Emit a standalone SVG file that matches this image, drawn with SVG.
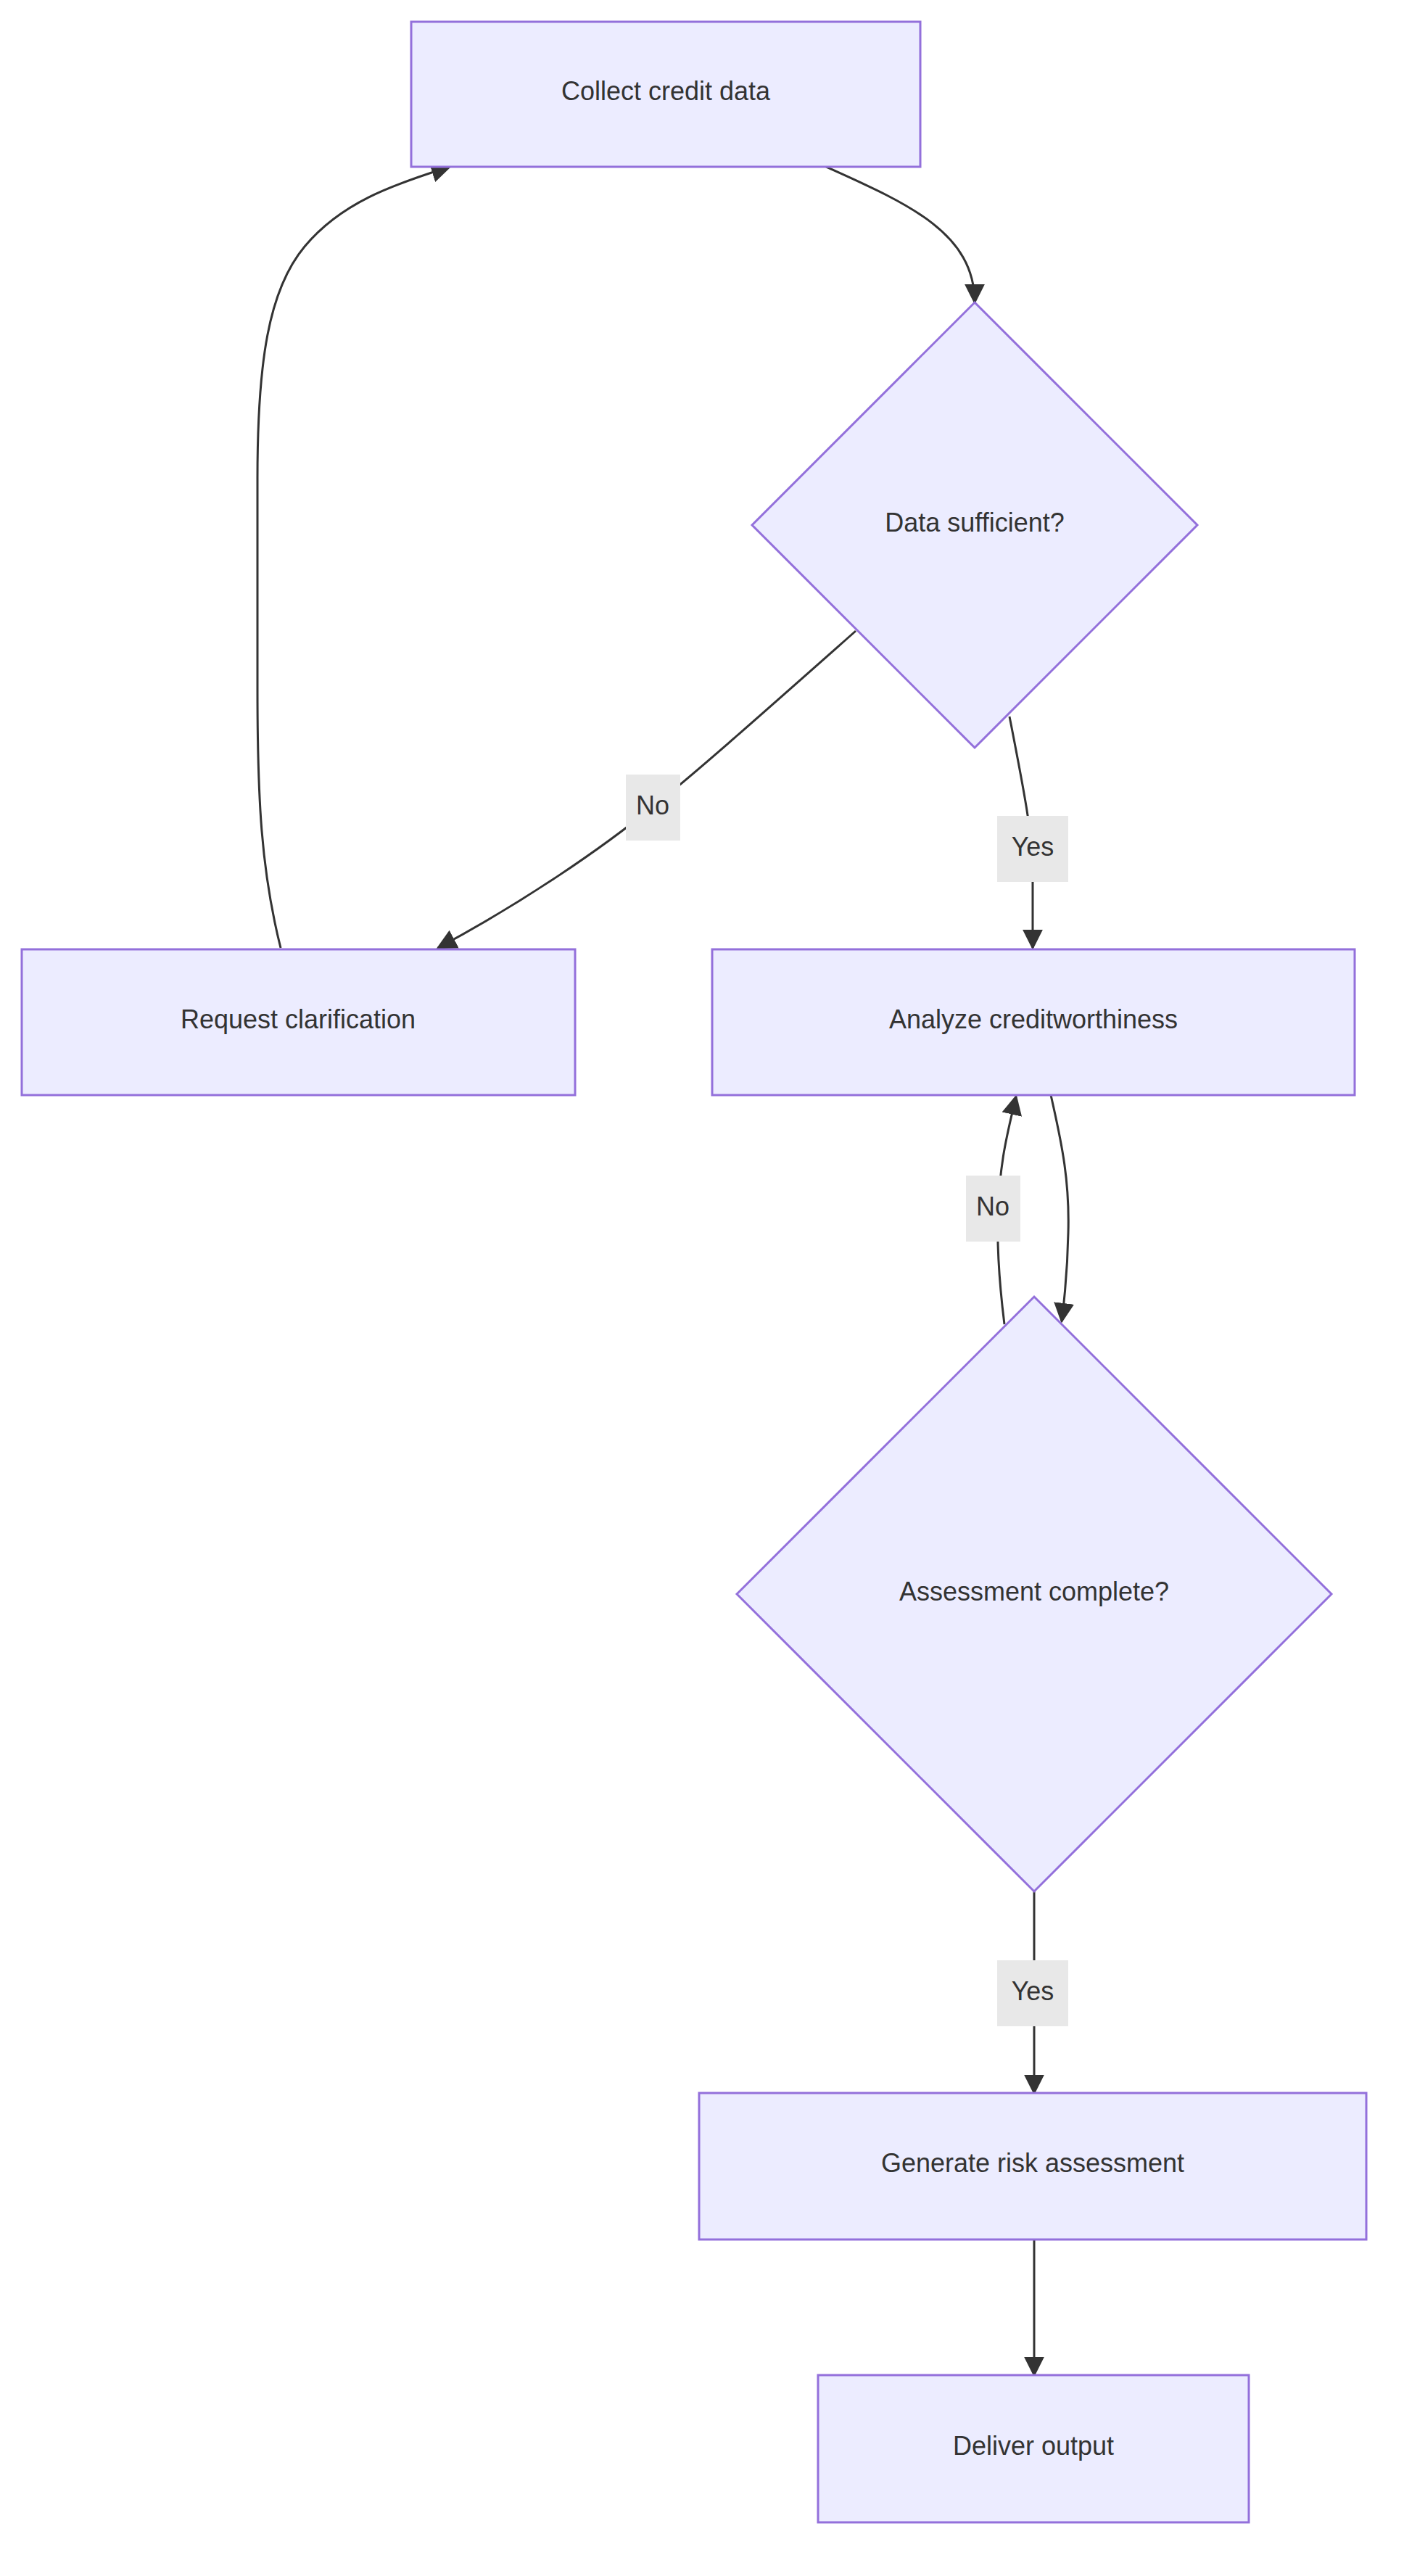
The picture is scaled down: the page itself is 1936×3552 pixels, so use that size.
<svg xmlns="http://www.w3.org/2000/svg" width="1936" height="3552" viewBox="0 0 1936 3552">
<style>
.n{fill:#ECECFF;stroke:#9370DB;stroke-width:3}
.t{font-family:"Liberation Sans",Arial,sans-serif;font-size:36px;fill:#333;text-anchor:middle;dominant-baseline:central}
.e{fill:none;stroke:#333;stroke-width:3;marker-end:url(#a)}
.lb{fill:#e8e8e8}
</style>
<defs><marker id="a" viewBox="0 0 10 10" refX="9" refY="5" markerWidth="9" markerHeight="9" markerUnits="userSpaceOnUse" orient="auto"><path d="M0,0L10,5L0,10z" fill="#333"/></marker>
<marker id="b" viewBox="0 0 10 10" refX="9" refY="5" markerWidth="28" markerHeight="28" markerUnits="userSpaceOnUse" orient="auto"><path d="M0,0L10,5L0,10z" fill="#333"/></marker></defs>
<rect width="1936" height="3552" fill="#fff"/>
<g id="edges" style="--m:url(#b)">
<path class="e" style="marker-end:url(#b)" d="M1139,230 C1250,280 1344,320 1344,417"/>
<path class="e" style="marker-end:url(#b)" d="M1180,870 C1050,985 960,1065 902,1111 C830,1170 720,1245 604,1307"/>
<path class="e" style="marker-end:url(#b)" d="M1392,988 C1410,1080 1424,1150 1424,1200 L1424,1307"/>
<path class="e" style="marker-end:url(#b)" d="M387,1307 C360,1200 355,1100 355,950 L355,660 C355,500 370,400 420,340 C470,280 540,255 620,230"/>
<path class="e" style="marker-end:url(#b)" d="M1449,1510 C1465,1580 1475,1630 1473,1700 C1472,1750 1468,1790 1464,1822"/>
<path class="e" style="marker-end:url(#b)" d="M1385,1826 C1378,1770 1375,1720 1376,1680 C1378,1600 1390,1560 1401,1512"/>
<path class="e" style="marker-end:url(#b)" d="M1426,2608 L1426,2886"/>
<path class="e" style="marker-end:url(#b)" d="M1426,3088 L1426,3275"/>
<rect class="lb" x="863" y="1068" width="75" height="91"/><text class="t" x="900" y="1110">No</text>
<rect class="lb" x="1375" y="1125" width="98" height="91"/><text class="t" x="1424" y="1167">Yes</text>
<rect class="lb" x="1332" y="1621" width="75" height="91"/><text class="t" x="1369" y="1663">No</text>
<rect class="lb" x="1375" y="2703" width="98" height="91"/><text class="t" x="1424" y="2745">Yes</text>
</g>
<g id="collect"><rect class="n" x="567" y="30" width="702" height="200"/><text class="t" x="918" y="125">Collect credit data</text></g>
<g id="sufficient"><polygon class="n" points="1344,417 1651,724 1344,1031 1037,724"/><text class="t" x="1344" y="720">Data sufficient?</text></g>
<g id="request"><rect class="n" x="30" y="1309" width="763" height="201"/><text class="t" x="411" y="1405">Request clarification</text></g>
<g id="analyze"><rect class="n" x="982" y="1309" width="886" height="201"/><text class="t" x="1425" y="1405">Analyze creditworthiness</text></g>
<g id="complete"><polygon class="n" points="1426,1788 1836,2198 1426,2608 1016,2198"/><text class="t" x="1426" y="2194">Assessment complete?</text></g>
<g id="generate"><rect class="n" x="964" y="2886" width="920" height="202"/><text class="t" x="1424" y="2982">Generate risk assessment</text></g>
<g id="deliver"><rect class="n" x="1128" y="3275" width="594" height="203"/><text class="t" x="1425" y="3372">Deliver output</text></g>
</svg>
